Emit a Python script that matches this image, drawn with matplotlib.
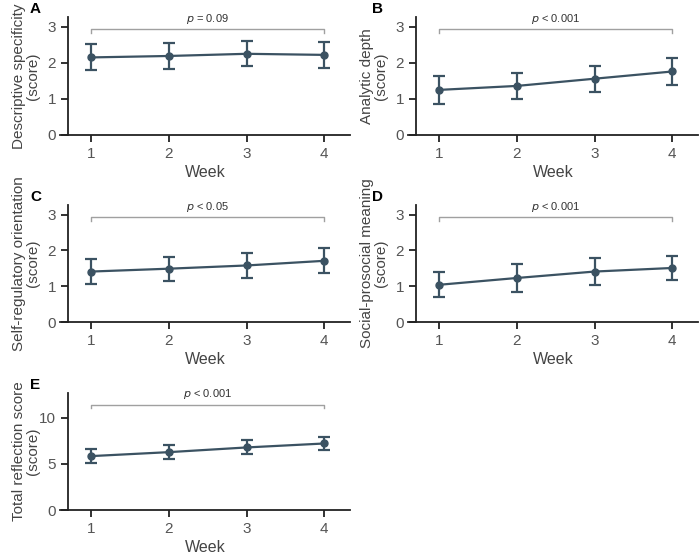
import matplotlib.pyplot as plt

plt.rcParams['font.family'] = ['Liberation Sans', 'DejaVu Sans']

# Data: mean score per week and the error bar half-widths
weeks = [1, 2, 3, 4]

desc_mean = [2.15, 2.19, 2.25, 2.22]
desc_err = [0.36, 0.35, 0.35, 0.35]

anal_mean = [1.25, 1.36, 1.56, 1.76]
anal_err = [0.39, 0.37, 0.36, 0.38]

selfreg_mean = [1.41, 1.49, 1.58, 1.71]
selfreg_err = [0.36, 0.34, 0.36, 0.35]

social_mean = [1.04, 1.23, 1.41, 1.51]
social_err = [0.35, 0.38, 0.38, 0.34]

total_mean = [5.85, 6.28, 6.79, 7.22]
total_err = [0.78, 0.77, 0.76, 0.72]

panel_letters = ["A", "B", "C", "D", "E"]
ylabels = ["Descriptive specificity\n(score)", "Analytic depth\n(score)",
           "Self-regulatory orientation\n(score)", "Social-prosocial meaning\n(score)",
           "Total reflection score\n(score)"]
p_texts = ["$p$ = 0.09", "$p$ < 0.001", "$p$ < 0.05", "$p$ < 0.001", "$p$ < 0.001"]
means = [desc_mean, anal_mean, selfreg_mean, social_mean, total_mean]
errs = [desc_err, anal_err, selfreg_err, social_err, total_err]

line_color = "#3b5262"
gray_text = "#555555"

fig = plt.figure(figsize=(7, 5.55), dpi=100)

# axes rectangles in pixels: (left, bottom of y=0, top)
W, H = 700, 555
lefts = [60, 408, 60, 408, 60]
bottoms = [135, 135, 322, 322, 510]
tops = [17, 17, 205, 205, 393]

for i in range(5):
    ax = fig.add_axes([lefts[i] / W, (H - bottoms[i]) / H, 290 / W, (bottoms[i] - tops[i]) / H])
    big = i == 4
    ax.errorbar(weeks, means[i], yerr=errs[i], color=line_color, marker="o", markersize=5,
                linewidth=1.6, elinewidth=1.6, capsize=4, capthick=1.6)
    ax.set_xlim(0.6, 4.33)
    if big:
        ax.set_ylim(0, 12.7)
        ax.set_yticks([0, 5, 10])
        bracket, tick_len, text_y = 11.4, 0.35, 11.8
    else:
        ax.set_ylim(0, 3.27)
        ax.set_yticks([0, 1, 2, 3])
        bracket, tick_len, text_y = 2.93, 0.1, 3.02
    ax.set_xticks(weeks)
    # significance bracket
    ax.plot([1, 1, 4, 4], [bracket - tick_len, bracket, bracket, bracket - tick_len],
            color="#a0a0a0", linewidth=1)
    ax.text(2.5, text_y, p_texts[i], ha="center", va="bottom", fontsize=8, color="#333333")

    ax.spines["top"].set_visible(False)
    ax.spines["right"].set_visible(False)
    ax.spines["left"].set_position(("data", 0.7))
    for s in ["left", "bottom"]:
        ax.spines[s].set_linewidth(1.3)
        ax.spines[s].set_color("#222222")
    ax.tick_params(axis="both", labelsize=11, labelcolor=gray_text, width=1.3, length=5,
                   color="#222222")
    ax.set_xlabel("Week", fontsize=11.5, color="#444444", labelpad=3)
    ax.set_ylabel(ylabels[i], fontsize=11, color="#444444", linespacing=1.0)
    ax.yaxis.set_label_coords(-0.068, 0.5)

    lx = 30 if i % 2 == 0 else 372
    ly = tops[i] - 8
    fig.text(lx / W, (H - ly) / H, panel_letters[i], fontsize=11, fontweight="bold",
             ha="left", va="center")

fig.savefig("out.png", dpi=100)
